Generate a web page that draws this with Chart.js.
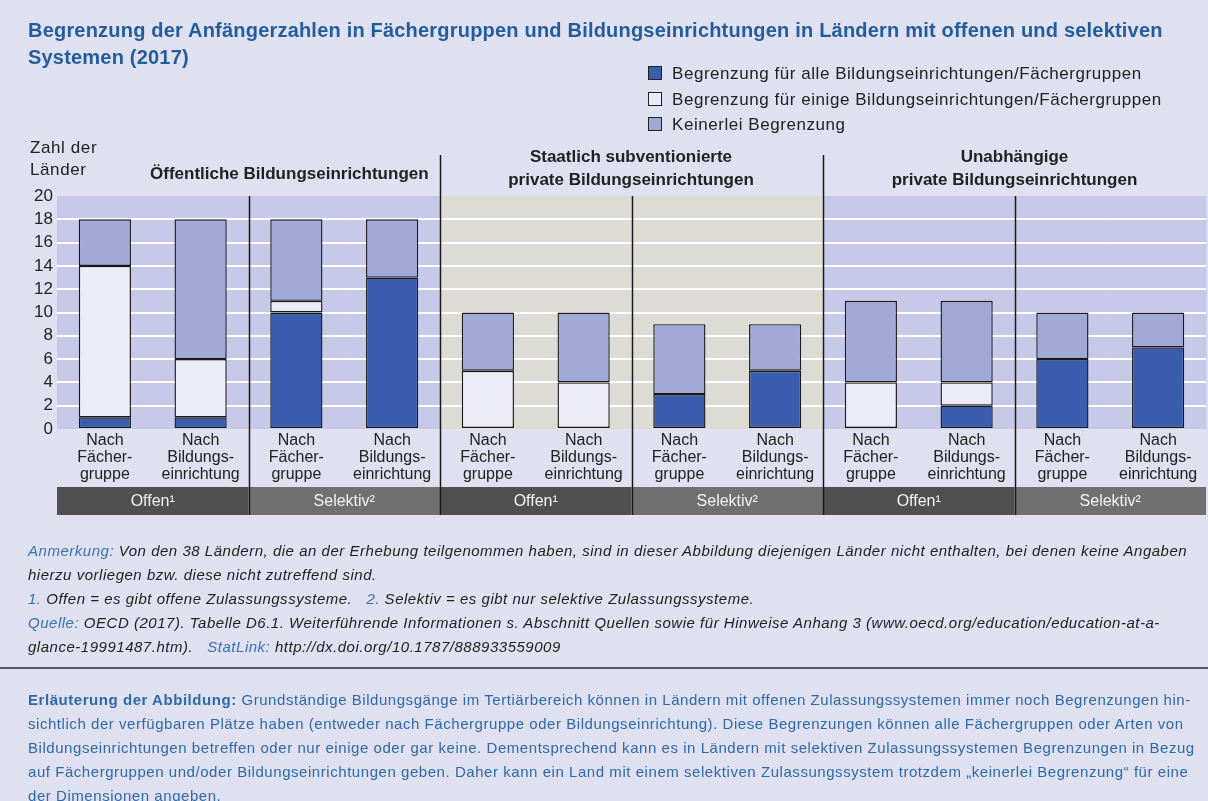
<!DOCTYPE html>
<html lang="de">
<head>
<meta charset="utf-8">
<script src="https://cdn.jsdelivr.net/npm/chart.js@4.4.1/dist/chart.umd.min.js"></script>
<style>
  html, body { margin: 0; padding: 0; }
  body { width: 1208px; height: 801px; background: #dfe0f0; position: relative; overflow: hidden;
         font-family: 'Liberation Sans', Arial, sans-serif; color: #222; }
  #wrap { position: absolute; left: 0; top: 0; width: 1208px; height: 801px; }
  .abs { position: absolute; white-space: nowrap; }
  #title { left: 28px; top: 17px; font: bold 20px 'Liberation Sans', Arial, sans-serif; letter-spacing: 0.2px; color: #245d9c; line-height: 27px; }
  .leg { left: 648px; font-size: 17px; line-height: 20px; letter-spacing: 0.55px; }
  .leg i { display: inline-block; width: 12px; height: 12px; border: 1.5px solid #222; vertical-align: -1px; margin-right: 10px; }
  .yt { left: 30px; font-size: 17px; letter-spacing: 0.6px; }
  .hd { font-weight: bold; font-size: 17px; text-align: center; line-height: 23px; }
  .fn { left: 28px; font-style: italic; font-size: 15px; line-height: 20px; letter-spacing: 0.52px; }
  .fn span { color: #3a72b0; }
  .ex { left: 28px; font-size: 15px; line-height: 20px; letter-spacing: 0.55px; color: #2f6aa8; }
  #rule { left: 0; top: 667px; width: 1208px; height: 2px; background: #555a66; }
</style>
</head>
<body>
<div id="wrap"><canvas id="chart" width="1208" height="801"></canvas></div>

<div id="title" class="abs">Begrenzung der Anfängerzahlen in Fächergruppen und Bildungseinrichtungen in Ländern mit offenen und selektiven<br>Systemen (2017)</div>

<div class="abs leg" style="top:64px"><i style="background:#3a5ead"></i>Begrenzung für alle Bildungseinrichtungen/Fächergruppen</div>
<div class="abs leg" style="top:90px"><i style="background:#ececf6"></i>Begrenzung für einige Bildungseinrichtungen/Fächergruppen</div>
<div class="abs leg" style="top:115px"><i style="background:#a1a9d7"></i>Keinerlei Begrenzung</div>

<div class="abs yt" style="top:138px">Zahl der</div>
<div class="abs yt" style="top:160px">Länder</div>

<div class="abs hd" style="left:150px; top:162px">Öffentliche Bildungseinrichtungen</div>
<div class="abs hd" style="left:439px; width:384px; top:145px">Staatlich subventionierte<br>private Bildungseinrichtungen</div>
<div class="abs hd" style="left:823px; width:383px; top:145px">Unabhängige<br>private Bildungseinrichtungen</div>

<div class="abs fn" style="top:541px"><span>Anmerkung:</span> Von den 38 Ländern, die an der Erhebung teilgenommen haben, sind in dieser Abbildung diejenigen Länder nicht enthalten, bei denen keine Angaben</div>
<div class="abs fn" style="top:565px">hierzu vorliegen bzw. diese nicht zutreffend sind.</div>
<div class="abs fn" style="top:589px"><span>1.</span> Offen = es gibt offene Zulassungssysteme. &nbsp;&nbsp;<span>2.</span> Selektiv = es gibt nur selektive Zulassungssysteme.</div>
<div class="abs fn" style="top:613px"><span>Quelle:</span> OECD (2017). Tabelle D6.1. Weiterführende Informationen s. Abschnitt Quellen sowie für Hinweise Anhang 3 (www.oecd.org/education/education-at-a-</div>
<div class="abs fn" style="top:637px">glance-19991487.htm). &nbsp;&nbsp;<span>StatLink:</span> http://dx.doi.org/10.1787/888933559009</div>

<div id="rule" class="abs"></div>

<div class="abs ex" style="top:690px"><b>Erläuterung der Abbildung:</b> Grundständige Bildungsgänge im Tertiärbereich können in Ländern mit offenen Zulassungssystemen immer noch Begrenzungen hin-</div>
<div class="abs ex" style="top:714px">sichtlich der verfügbaren Plätze haben (entweder nach Fächergruppe oder Bildungseinrichtung). Diese Begrenzungen können alle Fächergruppen oder Arten von</div>
<div class="abs ex" style="top:738px">Bildungseinrichtungen betreffen oder nur einige oder gar keine. Dementsprechend kann es in Ländern mit selektiven Zulassungssystemen Begrenzungen in Bezug</div>
<div class="abs ex" style="top:762px">auf Fächergruppen und/oder Bildungseinrichtungen geben. Daher kann ein Land mit einem selektiven Zulassungssystem trotzdem „keinerlei Begrenzung“ für eine</div>
<div class="abs ex" style="top:786px">der Dimensionen angeben.</div>

<script>
// categories: 3 sectors x (Offen, Selektiv) x (Fächergruppe, Bildungseinrichtung)
const byField = ['Nach', 'Fächer-', 'gruppe'];
const byInstitution = ['Nach', 'Bildungs-', 'einrichtung'];
const categories = [
    byField, byInstitution, byField, byInstitution,
    byField, byInstitution, byField, byInstitution,
    byField, byInstitution, byField, byInstitution,
];
const systems = ['Offen¹', 'Selektiv²', 'Offen¹', 'Selektiv²', 'Offen¹', 'Selektiv²'];

// number of countries per bar
const alleValues = [1, 1, 10, 13, 0, 0, 3, 5, 0, 2, 6, 7];
const einigeValues = [13, 5, 1, 0, 5, 4, 0, 0, 4, 2, 0, 0];
const keineValues = [4, 12, 7, 5, 5, 6, 6, 4, 7, 7, 4, 3];

const yTicks = [0, 2, 4, 6, 8, 10, 12, 14, 16, 18, 20];

// sector background colours (public / state subsidised / independent)
const sectorColors = ['#c6c9e7', '#dcdcd5', '#c6c9e7'];

Chart.defaults.font.family = "'Liberation Sans', Arial, sans-serif";
Chart.defaults.color = '#222';

// zero segments would still draw a border line, so leave them out
const noZero = (arr) => arr.map(v => (v === 0 ? null : v));

const bandsPlugin = {
    id: 'bands',
    beforeDraw(chart) {
        const { ctx, chartArea, scales: { x } } = chart;
        const half = (x.getPixelForValue(1) - x.getPixelForValue(0)) / 2;
        ctx.save();
        categories.forEach((_, i) => {
            ctx.fillStyle = sectorColors[Math.floor(i / 4)];
            const x0 = x.getPixelForValue(i) - half;
            ctx.fillRect(x0, chartArea.top, half * 2 + 0.5, chartArea.bottom - chartArea.top);
        });
        ctx.restore();
    },
    afterDraw(chart) {
        const { ctx, chartArea, scales: { x } } = chart;
        const half = (x.getPixelForValue(1) - x.getPixelForValue(0)) / 2;
        const bandTop = chartArea.bottom + 58;
        const bandH = 28;
        ctx.save();
        // system labels row
        systems.forEach((label, s) => {
            const x0 = x.getPixelForValue(s * 2) - half;
            const x1 = x.getPixelForValue(s * 2 + 1) + half;
            ctx.fillStyle = s % 2 === 0 ? '#505050' : '#707070';
            ctx.fillRect(x0, bandTop, x1 - x0, bandH);
            ctx.fillStyle = '#f2f2f2';
            ctx.font = "16px 'Liberation Sans', Arial, sans-serif";
            ctx.textAlign = 'center';
            ctx.textBaseline = 'middle';
            ctx.fillText(label, (x0 + x1) / 2, bandTop + bandH / 2 + 1);
        });
        // separators
        ctx.strokeStyle = '#1a1a1a';
        ctx.lineWidth = 1.5;
        for (let s = 1; s < systems.length; s++) {
            const xb = Math.round(x.getPixelForValue(s * 2) - half) + 0.5;
            const yTop = s % 2 === 0 ? 155 : chartArea.top;
            ctx.beginPath();
            ctx.moveTo(xb, yTop);
            ctx.lineTo(xb, bandTop + bandH);
            ctx.stroke();
        }
        ctx.restore();
    },
};

const barStyle = {
    borderColor: '#1a1a1a',
    borderWidth: 1.4,
    borderSkipped: false,
    barPercentage: 0.545,
    categoryPercentage: 1,
};

new Chart(document.getElementById('chart'), {
    type: 'bar',
    plugins: [bandsPlugin],
    data: {
        labels: categories,
        datasets: [
            { label: 'Begrenzung für alle Bildungseinrichtungen/Fächergruppen', data: noZero(alleValues), backgroundColor: '#3a5ead', ...barStyle },
            { label: 'Begrenzung für einige Bildungseinrichtungen/Fächergruppen', data: noZero(einigeValues), backgroundColor: '#ececf6', ...barStyle },
            { label: 'Keinerlei Begrenzung', data: noZero(keineValues), backgroundColor: '#a1a9d7', ...barStyle },
        ],
    },
    options: {
        responsive: false,
        animation: false,
        layout: { padding: { top: 196, right: 2, bottom: 314, left: 0 } },
        plugins: {
            legend: { display: false },
            tooltip: { enabled: false },
        },
        scales: {
            x: {
                stacked: true,
                grid: { display: false, drawTicks: false },
                border: { display: false },
                ticks: { font: { size: 16, lineHeight: 1.07 }, padding: 3, maxRotation: 0, autoSkip: false, color: '#222' },
                afterFit: (scale) => { scale.height = 58; },
            },
            y: {
                stacked: true,
                min: 0,
                max: 20,
                afterBuildTicks: (scale) => { scale.ticks = yTicks.map(v => ({ value: v })); },
                grid: {
                    drawTicks: false,
                    lineWidth: 2,
                    color: (c) => (c.tick && (c.tick.value === 0 || c.tick.value === 20) ? 'rgba(0,0,0,0)' : '#ffffff'),
                },
                border: { display: false },
                ticks: { font: { size: 17 }, padding: 4, color: '#222', autoSkip: false },
                afterFit: (scale) => { scale.width = 57; },
            },
        },
    },
});
</script>
</body>
</html>
